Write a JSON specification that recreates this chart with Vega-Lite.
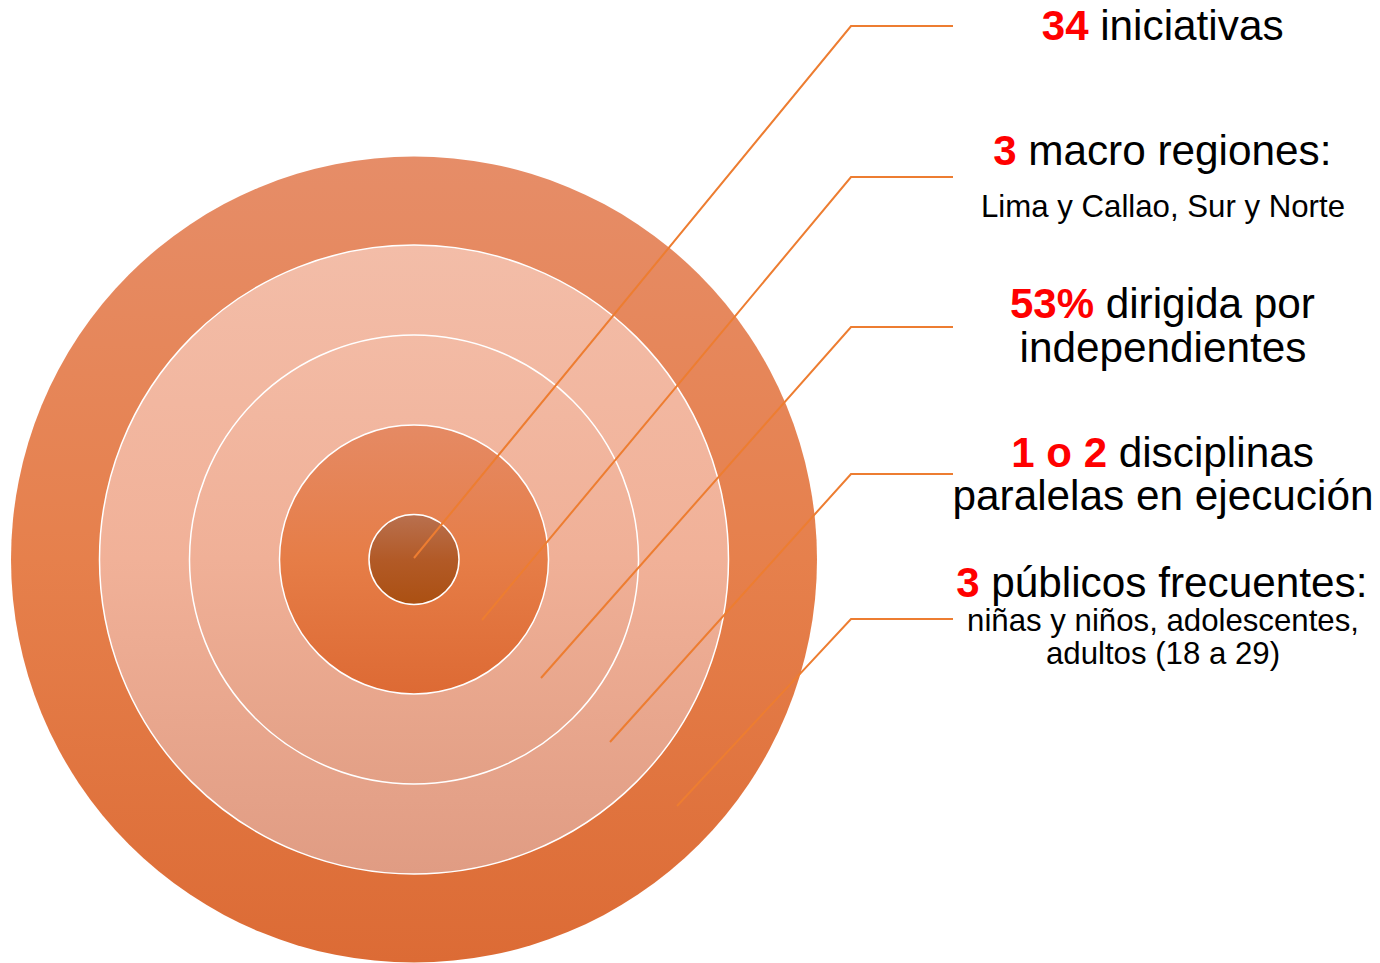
{
  "$schema": "https://vega.github.io/schema/vega-lite/v6.json",
  "width": 1380,
  "height": 963,
  "autosize": {"type": "fit", "contains": "padding"},
  "padding": 0,
  "background": "white",
  "config": {"view": {"stroke": null}},
  "datasets": {
    "rings": [
      {"ring": "outer", "cx": 414, "cy": 559.5, "r": 403},
      {"ring": "second", "cx": 414, "cy": 559.5, "r": 314.5},
      {"ring": "third", "cx": 414, "cy": 559.5, "r": 224.5},
      {"ring": "fourth", "cx": 414, "cy": 559.5, "r": 134.5},
      {"ring": "core", "cx": 414, "cy": 559.5, "r": 45}
    ],
    "leaders": [
      {"id": 1, "o": 1, "x": 414, "y": 558},
      {"id": 1, "o": 2, "x": 851, "y": 26},
      {"id": 1, "o": 3, "x": 953, "y": 26},
      {"id": 2, "o": 1, "x": 482, "y": 620},
      {"id": 2, "o": 2, "x": 851, "y": 177},
      {"id": 2, "o": 3, "x": 953, "y": 177},
      {"id": 3, "o": 1, "x": 541, "y": 678},
      {"id": 3, "o": 2, "x": 851, "y": 327},
      {"id": 3, "o": 3, "x": 953, "y": 327},
      {"id": 4, "o": 1, "x": 610, "y": 742},
      {"id": 4, "o": 2, "x": 851, "y": 474},
      {"id": 4, "o": 3, "x": 953, "y": 474},
      {"id": 5, "o": 1, "x": 677, "y": 806},
      {"id": 5, "o": 2, "x": 851, "y": 619},
      {"id": 5, "o": 3, "x": 953, "y": 619}
    ],
    "labels": [
      {"kind": "num", "text": "34", "x": 1088.5, "y": 40},
      {"kind": "num", "text": "3", "x": 1016.5, "y": 165},
      {"kind": "num", "text": "53%", "x": 1094, "y": 318},
      {"kind": "num", "text": "1 o 2", "x": 1107, "y": 467},
      {"kind": "num", "text": "3", "x": 979.5, "y": 597},
      {"kind": "after", "text": "iniciativas", "x": 1100.2, "y": 40},
      {"kind": "after", "text": "macro regiones:", "x": 1028.2, "y": 165},
      {"kind": "after", "text": "dirigida por", "x": 1105.7, "y": 318},
      {"kind": "after", "text": "disciplinas", "x": 1118.7, "y": 467},
      {"kind": "after", "text": "públicos frecuentes:", "x": 991.2, "y": 597},
      {"kind": "line", "text": "independientes", "x": 1163, "y": 362},
      {"kind": "line", "text": "paralelas en ejecución", "x": 1163, "y": 510},
      {"kind": "small", "text": "Lima y Callao, Sur y Norte", "x": 1163, "y": 217},
      {"kind": "small", "text": "niñas y niños, adolescentes,", "x": 1163, "y": 631},
      {"kind": "small", "text": "adultos (18 a 29)", "x": 1163, "y": 664}
    ]
  },
  "layer": [
    {
      "data": {"name": "rings"},
      "transform": [{"filter": "datum.ring == 'outer'"}],
      "mark": {"type": "point", "shape": "circle", "filled": true, "opacity": 1, "fillOpacity": 1, "strokeWidth": 0,
        "fill": {"gradient": "linear", "x1": 0, "y1": 0, "x2": 0, "y2": 1, "stops": [
          {"offset": 0, "color": "#E68D68"}, {"offset": 0.5, "color": "#E6804C"}, {"offset": 1, "color": "#DC6B35"}]}},
      "encoding": {
        "x": {"field": "cx", "type": "quantitative", "scale": {"domain": [0, 1380]}, "axis": null},
        "y": {"field": "cy", "type": "quantitative", "scale": {"domain": [0, 963], "reverse": true}, "axis": null},
        "size": {"field": "r", "type": "quantitative", "scale": {"type": "pow", "exponent": 2, "domain": [0, 403], "range": [0, 649636]}, "legend": null}
      }
    },
    {
      "data": {"name": "rings"},
      "transform": [{"filter": "datum.ring == 'second'"}],
      "mark": {"type": "point", "shape": "circle", "filled": true, "opacity": 1, "fillOpacity": 1, "stroke": "white", "strokeWidth": 1.5,
        "fill": {"gradient": "linear", "x1": 0, "y1": 0, "x2": 0, "y2": 1, "stops": [
          {"offset": 0, "color": "#F3BDA8"}, {"offset": 0.5, "color": "#F1B198"}, {"offset": 1, "color": "#E09C83"}]}},
      "encoding": {
        "x": {"field": "cx", "type": "quantitative", "scale": {"domain": [0, 1380]}, "axis": null},
        "y": {"field": "cy", "type": "quantitative", "scale": {"domain": [0, 963], "reverse": true}, "axis": null},
        "size": {"field": "r", "type": "quantitative", "scale": {"type": "pow", "exponent": 2, "domain": [0, 403], "range": [0, 649636]}, "legend": null}
      }
    },
    {
      "data": {"name": "rings"},
      "transform": [{"filter": "datum.ring == 'third'"}],
      "mark": {"type": "point", "shape": "circle", "filled": true, "opacity": 1, "fillOpacity": 1, "stroke": "white", "strokeWidth": 1.5,
        "fill": {"gradient": "linear", "x1": 0, "y1": 0, "x2": 0, "y2": 1, "stops": [
          {"offset": 0, "color": "#F3BBA5"}, {"offset": 0.5, "color": "#F0B097"}, {"offset": 1, "color": "#E3A086"}]}},
      "encoding": {
        "x": {"field": "cx", "type": "quantitative", "scale": {"domain": [0, 1380]}, "axis": null},
        "y": {"field": "cy", "type": "quantitative", "scale": {"domain": [0, 963], "reverse": true}, "axis": null},
        "size": {"field": "r", "type": "quantitative", "scale": {"type": "pow", "exponent": 2, "domain": [0, 403], "range": [0, 649636]}, "legend": null}
      }
    },
    {
      "data": {"name": "rings"},
      "transform": [{"filter": "datum.ring == 'fourth'"}],
      "mark": {"type": "point", "shape": "circle", "filled": true, "opacity": 1, "fillOpacity": 1, "stroke": "white", "strokeWidth": 1.5,
        "fill": {"gradient": "linear", "x1": 0, "y1": 0, "x2": 0, "y2": 1, "stops": [
          {"offset": 0, "color": "#E58A64"}, {"offset": 0.5, "color": "#E67D47"}, {"offset": 1, "color": "#DD6A34"}]}},
      "encoding": {
        "x": {"field": "cx", "type": "quantitative", "scale": {"domain": [0, 1380]}, "axis": null},
        "y": {"field": "cy", "type": "quantitative", "scale": {"domain": [0, 963], "reverse": true}, "axis": null},
        "size": {"field": "r", "type": "quantitative", "scale": {"type": "pow", "exponent": 2, "domain": [0, 403], "range": [0, 649636]}, "legend": null}
      }
    },
    {
      "data": {"name": "rings"},
      "transform": [{"filter": "datum.ring == 'core'"}],
      "mark": {"type": "point", "shape": "circle", "filled": true, "opacity": 1, "fillOpacity": 1, "stroke": "white", "strokeWidth": 1.5,
        "fill": {"gradient": "linear", "x1": 0, "y1": 0, "x2": 0, "y2": 1, "stops": [
          {"offset": 0, "color": "#B9704F"}, {"offset": 0.5, "color": "#B25A27"}, {"offset": 1, "color": "#AB5012"}]}},
      "encoding": {
        "x": {"field": "cx", "type": "quantitative", "scale": {"domain": [0, 1380]}, "axis": null},
        "y": {"field": "cy", "type": "quantitative", "scale": {"domain": [0, 963], "reverse": true}, "axis": null},
        "size": {"field": "r", "type": "quantitative", "scale": {"type": "pow", "exponent": 2, "domain": [0, 403], "range": [0, 649636]}, "legend": null}
      }
    },
    {
      "data": {"name": "leaders"},
      "mark": {"type": "line", "color": "#ED7D31", "strokeWidth": 2, "strokeJoin": "miter"},
      "encoding": {
        "x": {"field": "x", "type": "quantitative", "scale": {"domain": [0, 1380]}, "axis": null},
        "y": {"field": "y", "type": "quantitative", "scale": {"domain": [0, 963], "reverse": true}, "axis": null},
        "detail": {"field": "id", "type": "nominal"},
        "order": {"field": "o", "type": "quantitative"}
      }
    },
    {
      "data": {"name": "labels"},
      "transform": [{"filter": "datum.kind == 'num'"}],
      "mark": {"type": "text", "align": "right", "baseline": "alphabetic", "font": "Liberation Sans", "fontSize": 42, "fontWeight": "bold", "color": "#FF0000"},
      "encoding": {
        "x": {"field": "x", "type": "quantitative", "scale": {"domain": [0, 1380]}, "axis": null},
        "y": {"field": "y", "type": "quantitative", "scale": {"domain": [0, 963], "reverse": true}, "axis": null},
        "text": {"field": "text"}
      }
    },
    {
      "data": {"name": "labels"},
      "transform": [{"filter": "datum.kind == 'after'"}],
      "mark": {"type": "text", "align": "left", "baseline": "alphabetic", "font": "Liberation Sans", "fontSize": 42.3, "color": "#000000"},
      "encoding": {
        "x": {"field": "x", "type": "quantitative", "scale": {"domain": [0, 1380]}, "axis": null},
        "y": {"field": "y", "type": "quantitative", "scale": {"domain": [0, 963], "reverse": true}, "axis": null},
        "text": {"field": "text"}
      }
    },
    {
      "data": {"name": "labels"},
      "transform": [{"filter": "datum.kind == 'line'"}],
      "mark": {"type": "text", "align": "center", "baseline": "alphabetic", "font": "Liberation Sans", "fontSize": 42.3, "color": "#000000"},
      "encoding": {
        "x": {"field": "x", "type": "quantitative", "scale": {"domain": [0, 1380]}, "axis": null},
        "y": {"field": "y", "type": "quantitative", "scale": {"domain": [0, 963], "reverse": true}, "axis": null},
        "text": {"field": "text"}
      }
    },
    {
      "data": {"name": "labels"},
      "transform": [{"filter": "datum.kind == 'small'"}],
      "mark": {"type": "text", "align": "center", "baseline": "alphabetic", "font": "Liberation Sans", "fontSize": 31.2, "color": "#000000"},
      "encoding": {
        "x": {"field": "x", "type": "quantitative", "scale": {"domain": [0, 1380]}, "axis": null},
        "y": {"field": "y", "type": "quantitative", "scale": {"domain": [0, 963], "reverse": true}, "axis": null},
        "text": {"field": "text"}
      }
    }
  ]
}
